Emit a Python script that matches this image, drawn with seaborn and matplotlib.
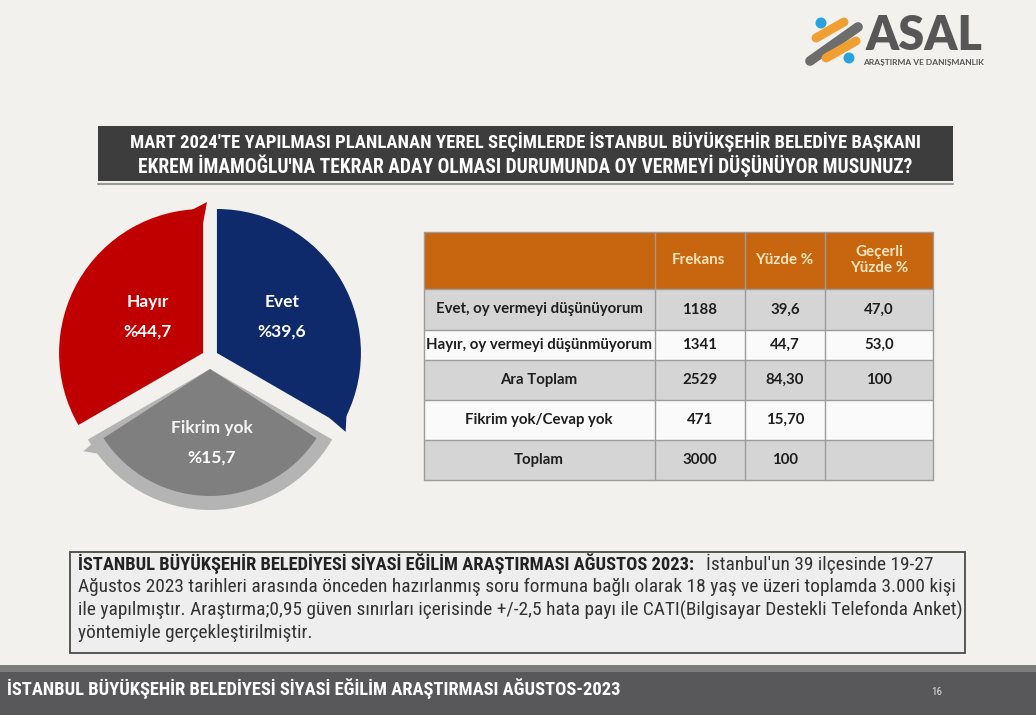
import numpy as np
import matplotlib
matplotlib.use("Agg")
import matplotlib.pyplot as plt
import matplotlib.patches as mpatches
import seaborn as sns

W, H = 1036, 715

# pie (cycle graphic: three equal segments, clockwise from the top)
pie_labels = ["Evet", "Fikrim yok", "Hayır"]
pie_values = [39.6, 15.7, 44.7]
pie_segments = [1, 1, 1]

# table
col_headers = ["Frekans", "Yüzde %", "Geçerli\nYüzde %"]
row_labels = ["Evet, oy vermeyi düşünüyorum", "Hayır, oy vermeyi düşünmüyorum",
              "Ara Toplam", "Fikrim yok/Cevap yok", "Toplam"]
frekans = [1188, 1341, 2529, 471, 3000]
yuzde = ["39,6", "44,7", "84,30", "15,70", "100"]
gecerli = ["47,0", "53,0", "100", "", ""]

title_lines = ["MART 2024'TE YAPILMASI PLANLANAN YEREL SEÇİMLERDE İSTANBUL BÜYÜKŞEHİR BELEDİYE BAŞKANI",
               "EKREM İMAMOĞLU'NA TEKRAR ADAY OLMASI DURUMUNDA OY VERMEYİ DÜŞÜNÜYOR MUSUNUZ?"]
note_bold = "İSTANBUL BÜYÜKŞEHİR BELEDİYESİ SİYASİ EĞİLİM ARAŞTIRMASI AĞUSTOS 2023:"
note_lines = ["İstanbul'un 39 ilçesinde 19-27",
              "Ağustos 2023 tarihleri arasında önceden hazırlanmış soru formuna bağlı olarak 18 yaş ve üzeri toplamda 3.000 kişi",
              "ile yapılmıştır. Araştırma;0,95 güven sınırları içerisinde +/-2,5 hata payı ile CATI(Bilgisayar Destekli Telefonda Anket)",
              "yöntemiyle gerçekleştirilmiştir."]
footer_text = "İSTANBUL BÜYÜKŞEHİR BELEDİYESİ SİYASİ EĞİLİM ARAŞTIRMASI AĞUSTOS-2023"
page_no = "16"

sns.set_theme(style="white")
plt.rcParams["font.family"] = ["Lato", "DejaVu Sans"]
NARROW = ["Roboto Condensed", "Lato", "DejaVu Sans"]

fig = plt.figure(figsize=(W / 100, H / 100), dpi=100)
fig.patch.set_facecolor("#f3f1ee")
ax = fig.add_axes([0, 0, 1, 1])
renderer = fig.canvas.get_renderer()


def Y(y):
    return H - y


def fit(x, y, s, width, ha="left", **kw):
    # place text and scale its font so it spans the given pixel width
    t = ax.text(x, Y(y), s, ha=ha, va="center", **kw)
    w = t.get_window_extent(renderer).width
    t.set_fontsize(t.get_fontsize() * width / w)
    return t


def polar(c, r, deg):
    a = np.deg2rad(deg)
    return (c[0] + r * np.cos(a), c[1] + r * np.sin(a))


# ---- pie ----
cx, cy, R = 210, 357, 144
colors = ["#0f2a6a", "#b4b4b4", "#c00000"]
wedges, _ = ax.pie(pie_segments, colors=colors, startangle=90, counterclock=False,
                   center=(cx, Y(cy)), radius=R, explode=[8, 12, 8],
                   wedgeprops=dict(linewidth=0))

# gray segment: lighter arrow band with darker inner wedge
gray = wedges[1]
gray.set_radius(141)
gc = gray.center
ax.add_patch(mpatches.Wedge(gc, 127, -147, -33, color="#7f7f7f", lw=0, zorder=3))
ax.add_patch(mpatches.Polygon([polar(gc, 120, -149), polar(gc, 151, -147),
                               polar(gc, 134, -140)], closed=True,
                              color="#b4b4b4", lw=0, zorder=2))

# small barbs at the clockwise ends of Evet and Hayır
for w, end in [(wedges[0], -30), (wedges[2], 90)]:
    c = w.center
    ax.add_patch(mpatches.Polygon([polar(c, R - 14, end), polar(c, R + 7, end - 1.5),
                                   polar(c, R - 1, end + 5)], closed=True,
                                  color=w.get_facecolor(), lw=0, zorder=2))

label_pos = {"Evet": (282, 302), "Fikrim yok": (212, 428), "Hayır": (148, 302)}
fk = fit(212, 428, "Fikrim yok", 81, ha="center", color="#f4f4f4", fontweight="bold", zorder=5)
fs = fk.get_fontsize()
for lab, val in zip(pie_labels, pie_values):
    x, y = label_pos[lab]
    if lab != "Fikrim yok":
        ax.text(x, Y(y), lab, ha="center", va="center", color="white",
                fontweight="bold", fontsize=fs, zorder=5)
    ax.text(x, Y(y + 30), "%" + f"{val:.1f}".replace(".", ","), ha="center", va="center",
            color="white", fontweight="bold", fontsize=fs, zorder=5)

# ---- title box ----
ax.add_patch(mpatches.Rectangle((98, Y(181)), 855, 55, color="#3d3d3d", lw=0))
ax.plot([98, 953], [Y(184), Y(184)], color="#9a9a9a", lw=1.5)
fit(525, 142, title_lines[0], 787, ha="center", color="white", fontweight="bold", family=NARROW)
fit(525, 166, title_lines[1], 775, ha="center", color="white", fontweight="bold", family=NARROW)

# ---- logo ----
for (x0, y0, x1, y1, c, lw) in [(810, 61, 858, 27, "#6d6d6d", 7),
                                (816, 38, 844, 22, "#f0a030", 6.5),
                                (826, 58, 856, 41, "#f0a030", 6.5)]:
    ax.plot([x0, x1], [Y(y0), Y(y1)], color=c, lw=lw, solid_capstyle="round")
ax.add_patch(mpatches.Circle((821, Y(23)), 5.5, color="#29a3e0", lw=0))
ax.add_patch(mpatches.Circle((849, Y(58)), 5.5, color="#29a3e0", lw=0))
fit(866, 36, "ASAL", 117, color="#575757", fontweight="heavy")
fit(863, 62, "ARAŞTIRMA VE DANIŞMANLIK", 122, color="#575757", fontweight="bold")

# ---- table ----
xe = [424, 655, 745, 825, 933]
ye = [232, 289, 330, 360, 400, 440, 480]
ax.add_patch(mpatches.Rectangle((xe[0], Y(ye[1])), xe[-1] - xe[0], ye[1] - ye[0],
                                color="#c8650f", lw=0))
for i in range(len(row_labels)):
    fill = "#d5d5d5" if i % 2 == 0 else "#fafafa"
    ax.add_patch(mpatches.Rectangle((xe[0], Y(ye[i + 2])), xe[-1] - xe[0],
                                    ye[i + 2] - ye[i + 1], color=fill, lw=0))
for y in ye:
    ax.plot([xe[0], xe[-1]], [Y(y), Y(y)], color="#9c9c9c", lw=1)
for x in xe:
    ax.plot([x, x], [Y(ye[0]), Y(ye[-1])], color="#9c9c9c", lw=1)

hd = fit(698, 260, col_headers[0], 53, ha="center", color="#fde6bd", fontweight="bold")
hfs = hd.get_fontsize()
ax.text(784, Y(260), col_headers[1], ha="center", va="center", color="#fde6bd",
        fontweight="bold", fontsize=hfs)
ax.text(879, Y(260), col_headers[2], ha="center", va="center", color="#fde6bd",
        fontweight="bold", fontsize=hfs, linespacing=1.25)

tb = fit(539, 345, row_labels[1], 226, ha="center", color="#1e1e1e", fontweight="bold")
tfs = tb.get_fontsize()
for i, (lab, f, yz, g) in enumerate(zip(row_labels, frekans, yuzde, gecerli)):
    yc = (ye[i + 1] + ye[i + 2]) / 2
    for x, s in [(539, lab), (700, str(f)), (785, yz), (879, g)]:
        if i == 1 and x == 539:
            continue
        ax.text(x, Y(yc), s, ha="center", va="center", color="#1e1e1e",
                fontweight="bold", fontsize=tfs)

# ---- note box ----
ax.add_patch(mpatches.Rectangle((70, Y(653)), 895, 101, facecolor="#eeeeee",
                                edgecolor="#4a4a4a", lw=1.3))
fit(78, 564, note_bold, 619, color="#222222", fontweight="bold", family=NARROW)
n2 = fit(78, 587, note_lines[1], 872, color="#333333", family=NARROW)
nfs = n2.get_fontsize()
ax.text(706, Y(564), note_lines[0], ha="left", va="center", color="#333333",
        fontsize=nfs, family=NARROW)
ax.text(78, Y(610), note_lines[2], ha="left", va="center", color="#333333",
        fontsize=nfs, family=NARROW)
ax.text(78, Y(633), note_lines[3], ha="left", va="center", color="#333333",
        fontsize=nfs, family=NARROW)

# ---- footer ----
ax.add_patch(mpatches.Rectangle((0, Y(672)), W, 7, color="#7c7c7c", lw=0))
ax.add_patch(mpatches.Rectangle((0, 0), W, H - 672, color="#58585a", lw=0))
fit(7, 689, footer_text, 615, color="white", fontweight="bold", family=NARROW)
ax.text(937, Y(692), page_no, ha="center", va="center", color="#dcdcdc",
        fontsize=8, family=NARROW)

ax.set_xlim(0, W)
ax.set_ylim(0, H)
ax.set_aspect("auto")
ax.axis("off")

fig.savefig("out.png", dpi=100, facecolor=fig.get_facecolor())
